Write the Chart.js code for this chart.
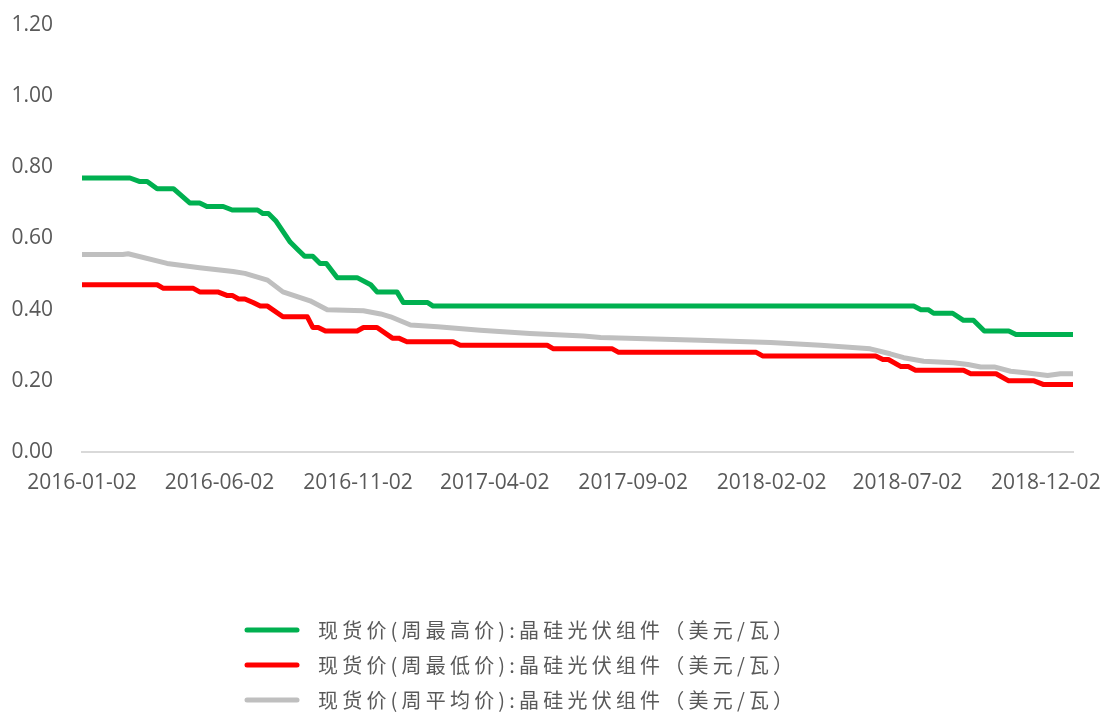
<!DOCTYPE html>
<html><head><meta charset="utf-8">
<script src="https://cdn.jsdelivr.net/npm/chart.js@4"></script>
<style>html,body{margin:0;padding:0;background:#fff}#wrap{width:1102px;height:713px}</style>
</head><body><div id="wrap"><canvas id="c" width="1102" height="713"></canvas></div>
<script>
const seriesNames = [
  '现货价(周最高价):晶硅光伏组件（美元/瓦）',
  '现货价(周最低价):晶硅光伏组件（美元/瓦）',
  '现货价(周平均价):晶硅光伏组件（美元/瓦）'
];
const seriesColors = ['#00B050', '#FF0000', '#BFBFBF'];

const highDates = ['2016-01-02','2016-02-24','2016-03-06','2016-03-14','2016-03-25','2016-04-12','2016-04-30','2016-05-11','2016-05-19','2016-06-06','2016-06-16','2016-07-14','2016-07-20','2016-07-26','2016-08-03','2016-08-11','2016-08-19','2016-08-27','2016-09-04','2016-09-13','2016-09-21','2016-09-28','2016-10-10','2016-11-01','2016-11-16','2016-11-23','2016-12-15','2016-12-22','2017-01-18','2017-01-24','2018-07-09','2018-07-17','2018-07-25','2018-07-31','2018-08-21','2018-09-02','2018-09-13','2018-09-25','2018-10-22','2018-10-30','2019-01-01'];
const highValues = [0.77,0.77,0.76,0.76,0.74,0.74,0.70,0.70,0.69,0.69,0.68,0.68,0.67,0.67,0.65,0.62,0.59,0.57,0.55,0.55,0.53,0.53,0.49,0.49,0.47,0.45,0.45,0.42,0.42,0.41,0.41,0.40,0.40,0.39,0.39,0.37,0.37,0.34,0.34,0.33,0.33];

const lowDates = ['2016-01-02','2016-03-25','2016-04-01','2016-05-04','2016-05-11','2016-05-31','2016-06-10','2016-06-16','2016-06-23','2016-06-30','2016-07-09','2016-07-17','2016-07-25','2016-08-11','2016-09-07','2016-09-13','2016-09-19','2016-09-27','2016-11-01','2016-11-08','2016-11-23','2016-12-10','2016-12-17','2016-12-26','2017-02-15','2017-02-23','2017-05-30','2017-06-06','2017-08-10','2017-08-17','2018-01-16','2018-01-23','2018-05-28','2018-06-05','2018-06-11','2018-06-25','2018-07-03','2018-07-11','2018-09-02','2018-09-10','2018-10-08','2018-10-22','2018-11-19','2018-11-29','2019-01-01'];
const lowValues = [0.47,0.47,0.46,0.46,0.45,0.45,0.44,0.44,0.43,0.43,0.42,0.41,0.41,0.38,0.38,0.35,0.35,0.34,0.34,0.35,0.35,0.32,0.32,0.31,0.31,0.30,0.30,0.29,0.29,0.28,0.28,0.27,0.27,0.26,0.26,0.24,0.24,0.23,0.23,0.22,0.22,0.20,0.20,0.19,0.19];

const avgDates = ['2016-01-02','2016-02-16','2016-02-22','2016-04-05','2016-05-11','2016-06-17','2016-06-30','2016-07-25','2016-08-11','2016-09-10','2016-09-29','2016-11-08','2016-11-27','2016-12-08','2016-12-30','2017-01-29','2017-03-17','2017-05-11','2017-07-09','2017-07-28','2017-11-15','2018-02-01','2018-03-28','2018-05-22','2018-06-13','2018-06-28','2018-07-20','2018-08-22','2018-09-07','2018-09-21','2018-10-06','2018-10-24','2018-11-12','2018-12-04','2018-12-18','2019-01-01'];
const avgValues = [0.555,0.555,0.557,0.530,0.518,0.507,0.502,0.483,0.450,0.425,0.400,0.397,0.388,0.380,0.357,0.352,0.342,0.333,0.326,0.322,0.314,0.308,0.300,0.290,0.276,0.265,0.255,0.251,0.246,0.239,0.239,0.227,0.222,0.215,0.220,0.220];

const tickLabels = ['2016-01-02','2016-06-02','2016-11-02','2017-04-02','2017-09-02','2018-02-02','2018-07-02','2018-12-02'];
const axisStart = '2016-01-02';
const axisEnd = '2019-01-01';
const yMin = 0, yMax = 1.2, yStep = 0.2;

const T0 = Date.UTC(2016, 0, 2);
function dayNum(s) { const p = s.split('-').map(Number); return (Date.UTC(p[0], p[1] - 1, p[2]) - T0) / 86400000; }
function dayLabel(n) { return new Date(T0 + Math.round(n) * 86400000).toISOString().slice(0, 10); }
function pts(dates, vals) { return dates.map((d, i) => ({ x: dayNum(d), y: vals[i] })); }

const tickFont = { family: '"Open Sans", "Liberation Sans", sans-serif', size: 21 };
const textColor = '#595959';

const legendPlugin = {
  id: 'vlegend',
  afterDraw(chart) {
    const ctx = chart.ctx;
    ctx.save();
    const rows = [630, 665, 700];
    chart.data.datasets.forEach((ds, i) => {
      const y = rows[i];
      ctx.strokeStyle = ds.borderColor;
      ctx.lineWidth = 5;
      ctx.lineCap = 'round';
      ctx.beginPath(); ctx.moveTo(247, y); ctx.lineTo(297, y); ctx.stroke();
      ctx.fillStyle = textColor;
      ctx.font = '20px "Noto Sans CJK SC", sans-serif';
      ctx.textBaseline = 'middle';
      ctx.textAlign = 'left';
      let x = 318;
      for (const ch of ds.label) {
        ctx.fillText(ch, x, y);
        x += ctx.measureText(ch).width + 4.2;
      }
    });
    ctx.restore();
  }
};

new Chart(document.getElementById('c'), {
  type: 'line',
  data: {
    datasets: [
      { label: seriesNames[0], data: pts(highDates, highValues), borderColor: seriesColors[0] },
      { label: seriesNames[1], data: pts(lowDates, lowValues), borderColor: seriesColors[1] },
      { label: seriesNames[2], data: pts(avgDates, avgValues), borderColor: seriesColors[2] }
    ].map(d => Object.assign(d, { borderWidth: 5, pointRadius: 0, tension: 0, fill: false, borderJoinStyle: 'round', borderCapStyle: 'round' }))
  },
  options: {
    responsive: false,
    animation: false,
    devicePixelRatio: 1,
    layout: { padding: { left: 0, right: 29, top: 25, bottom: 0 } },
    plugins: { legend: { display: false }, tooltip: { enabled: false } },
    scales: {
      x: {
        type: 'linear',
        min: dayNum(axisStart),
        max: dayNum(axisEnd),
        afterBuildTicks: s => { s.ticks = tickLabels.map(t => ({ value: dayNum(t) })); },
        afterFit: s => { s.height = 713 - 452; s.paddingLeft = 0; s.paddingRight = 0; },
        ticks: { callback: v => dayLabel(v), font: tickFont, color: textColor, padding: 18, maxRotation: 0, autoSkip: false },
        grid: { display: false, drawTicks: false },
        border: { display: true, color: '#D9D9D9', width: 2 }
      },
      y: {
        min: yMin, max: yMax,
        afterFit: s => { s.width = 82; s.paddingTop = 0; s.paddingBottom = 0; },
        ticks: { stepSize: yStep, callback: v => Number(v).toFixed(2), font: tickFont, color: textColor, padding: 29 },
        grid: { display: false, drawTicks: false },
        border: { display: false }
      }
    }
  },
  plugins: [legendPlugin]
});
</script>
</body></html>
